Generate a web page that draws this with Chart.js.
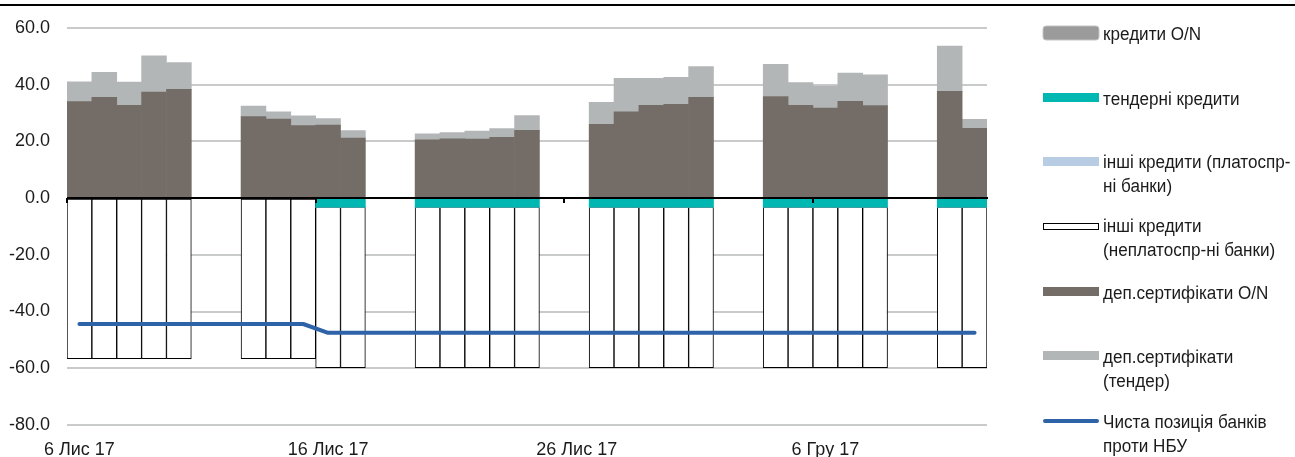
<!DOCTYPE html>
<html lang="uk">
<head>
<meta charset="utf-8">
<title>Ліквідність банків</title>
<script src="https://cdn.jsdelivr.net/npm/chart.js@4.4.1/dist/chart.umd.min.js"></script>
<style>
  html, body { margin: 0; padding: 0; background: #ffffff; }
  #wrap { position: relative; width: 1295px; height: 457px; }
  canvas { display: block; }
</style>
</head>
<body>
<div id="wrap"><canvas id="chart" width="1295" height="457"></canvas></div>
<script>
// Calendar days on the x axis (weekends carry no operations)
const days = [
  '6 Лис 17', '7 Лис 17', '8 Лис 17', '9 Лис 17', '10 Лис 17', '11 Лис 17', '12 Лис 17',
  '13 Лис 17', '14 Лис 17', '15 Лис 17', '16 Лис 17', '17 Лис 17', '18 Лис 17', '19 Лис 17',
  '20 Лис 17', '21 Лис 17', '22 Лис 17', '23 Лис 17', '24 Лис 17', '25 Лис 17', '26 Лис 17',
  '27 Лис 17', '28 Лис 17', '29 Лис 17', '30 Лис 17', '1 Гру 17', '2 Гру 17', '3 Гру 17',
  '4 Гру 17', '5 Гру 17', '6 Гру 17', '7 Гру 17', '8 Гру 17', '9 Гру 17', '10 Гру 17',
  '11 Гру 17', '12 Гру 17'
];

// Every tenth day gets a label
const labelStep = 10;

// Y axis range and step
const yTicks = { min: -80, max: 60, step: 20 };

// кредити O/N
const loansON = [
  0, 0, 0, 0, 0, null, null,
  0, 0, 0, 0, 0, null, null,
  0, 0, 0, 0, 0, null, null,
  0, 0, 0, 0, 0, null, null,
  0, 0, 0, 0, 0, null, null,
  0, 0
];

// тендерні кредити
const tenderLoans = [
  0, 0, 0, 0, 0, null, null,
  0, 0, 0, -3.2, -3.2, null, null,
  -3.2, -3.2, -3.2, -3.2, -3.2, null, null,
  -3.2, -3.2, -3.2, -3.2, -3.2, null, null,
  -3.2, -3.2, -3.2, -3.2, -3.2, null, null,
  -3.2, -3.2
];

// інші кредити (платоспроможні банки)
const otherLoansSolvent = [
  0, 0, 0, 0, 0, null, null,
  0, 0, 0, 0, 0, null, null,
  0, 0, 0, 0, 0, null, null,
  0, 0, 0, 0, 0, null, null,
  0, 0, 0, 0, 0, null, null,
  0, 0
];

// інші кредити (неплатоспроможні банки)
const otherLoansInsolvent = [
  -56.6, -56.6, -56.6, -56.6, -56.6, null, null,
  -56.6, -56.6, -56.6, -56.6, -56.6, null, null,
  -56.6, -56.6, -56.6, -56.6, -56.6, null, null,
  -56.6, -56.6, -56.6, -56.6, -56.6, null, null,
  -56.6, -56.6, -56.6, -56.6, -56.6, null, null,
  -56.6, -56.6
];

// депозитні сертифікати O/N
const depCertON = [
  34.0, 35.5, 32.7, 37.3, 38.3, null, null,
  28.7, 27.8, 25.5, 25.7, 21.1, null, null,
  20.5, 20.9, 20.8, 21.4, 23.9, null, null,
  26.0, 30.4, 32.7, 33.0, 35.5, null, null,
  35.8, 32.7, 31.7, 34.1, 32.6, null, null,
  37.6, 24.6
];

// депозитні сертифікати (тендер)
const depCertTender = [
  7.0, 8.8, 8.2, 12.8, 9.4, null, null,
  3.7, 2.6, 3.5, 2.3, 2.7, null, null,
  2.1, 2.2, 2.8, 3.1, 5.2, null, null,
  7.7, 11.8, 9.5, 9.5, 10.8, null, null,
  11.3, 8.0, 7.8, 9.9, 10.8, null, null,
  16.0, 3.1
];

// Чиста позиція банків проти НБУ
const netPosition = [
  -44.4, -44.4, -44.4, -44.4, -44.4, null, null,
  -44.4, -44.4, -44.4, -47.5, -47.5, null, null,
  -47.5, -47.5, -47.5, -47.5, -47.5, null, null,
  -47.5, -47.5, -47.5, -47.5, -47.5, null, null,
  -47.5, -47.5, -47.5, -47.5, -47.5, null, null,
  -47.5, -47.5
];

// Legend text, one entry per dataset, split into lines
const legendLines = [
  ['кредити O/N'],
  ['тендерні кредити'],
  ['інші кредити (платоспр-', 'ні банки)'],
  ['інші кредити', '(неплатоспр-ні банки)'],
  ['деп.сертифікати O/N'],
  ['деп.сертифікати', '(тендер)'],
  ['Чиста позиція банків', 'проти НБУ']
];

const FONT = "'Liberation Sans', Arial, sans-serif";
const TEXT = '#1b1b1b';

const C = {
  loansON: '#9b9b9b',
  tender: '#00b8b1',
  solvent: '#b8cce4',
  insolvent: '#ffffff',
  depON: '#746d67',
  depTender: '#b3b6b7',
  net: '#2e63a8',
  grid: '#c9cbcb'
};

const barBase = {
  type: 'bar',
  stack: 'ops',
  barPercentage: 1.0,
  categoryPercentage: 1.0,
  borderWidth: 0,
  order: 1
};

// Zero line, boundary ticks on it, rule across the top, and the side legend
const decorations = {
  id: 'decorations',
  afterDatasetsDraw(chart) {
    const { ctx, chartArea, scales } = chart;
    const y0 = Math.round(scales.y.getPixelForValue(0));
    ctx.save();
    ctx.fillStyle = '#000000';
    ctx.fillRect(chartArea.left, y0 - 1, chartArea.right - chartArea.left + 1, 2);
    const half = (scales.x.getPixelForValue(1) - scales.x.getPixelForValue(0)) / 2;
    for (let i = 0; i < days.length; i += labelStep) {
      const x = scales.x.getPixelForValue(i) - half;
      ctx.fillRect(Math.round(x) - 1, y0, 2, 5);
    }
    ctx.restore();
  },
  afterDraw(chart) {
    const { ctx } = chart;
    ctx.save();
    ctx.fillStyle = '#000000';
    ctx.fillRect(0, 4, chart.width, 2);

    const boxX = 1043, boxW = 56, textX = 1103, lineGap = 24.5, squeeze = 0.95;
    const rows = [
      { kind: 'round', top: 26, h: 14, text: 35 },
      { kind: 'fill', top: 93, h: 9, text: 100 },
      { kind: 'fill', top: 157, h: 9, text: 163 },
      { kind: 'outline', top: 223, h: 7, text: 227 },
      { kind: 'fill', top: 287, h: 9, text: 294 },
      { kind: 'fill', top: 351, h: 9, text: 358 },
      { kind: 'line', top: 419, h: 4, text: 423 }
    ];
    ctx.font = '18px ' + FONT;
    ctx.textBaseline = 'middle';
    ctx.textAlign = 'left';
    rows.forEach((r, i) => {
      const ds = chart.data.datasets[i];
      if (r.kind === 'round') {
        ctx.fillStyle = ds.backgroundColor;
        ctx.beginPath();
        ctx.roundRect(boxX, r.top, boxW, r.h, 3);
        ctx.fill();
        ctx.strokeStyle = '#c4c4c4';
        ctx.lineWidth = 1;
        ctx.stroke();
      } else if (r.kind === 'fill') {
        ctx.fillStyle = ds.backgroundColor;
        ctx.fillRect(boxX, r.top, boxW, r.h);
      } else if (r.kind === 'outline') {
        ctx.fillStyle = '#ffffff';
        ctx.fillRect(boxX, r.top, boxW, r.h);
        ctx.strokeStyle = '#000000';
        ctx.lineWidth = 1;
        ctx.strokeRect(boxX + 0.5, r.top + 0.5, boxW - 1, r.h - 1);
      } else {
        ctx.strokeStyle = ds.borderColor;
        ctx.lineWidth = 4;
        ctx.lineCap = 'round';
        ctx.beginPath();
        ctx.moveTo(boxX + 2, r.top + 2);
        ctx.lineTo(boxX + boxW - 2, r.top + 2);
        ctx.stroke();
      }
      ctx.fillStyle = TEXT;
      legendLines[i].forEach((t, k) => {
        ctx.save();
        ctx.translate(textX, r.text + k * lineGap);
        ctx.scale(squeeze, 1);
        ctx.fillText(t, 0, 0);
        ctx.restore();
      });
    });
    ctx.restore();
  }
};

new Chart(document.getElementById('chart'), {
  data: {
    labels: days,
    datasets: [
      { ...barBase, label: legendLines[0].join(' '), data: loansON, backgroundColor: C.loansON },
      { ...barBase, label: legendLines[1].join(' '), data: tenderLoans, backgroundColor: C.tender },
      { ...barBase, label: legendLines[2].join(' '), data: otherLoansSolvent, backgroundColor: C.solvent },
      { ...barBase, label: legendLines[3].join(' '), data: otherLoansInsolvent, backgroundColor: C.insolvent,
        borderColor: '#000000', borderWidth: 1, borderSkipped: false },
      { ...barBase, label: legendLines[4].join(' '), data: depCertON, backgroundColor: C.depON },
      { ...barBase, label: legendLines[5].join(' '), data: depCertTender, backgroundColor: C.depTender },
      {
        type: 'line',
        label: legendLines[6].join(' '),
        data: netPosition,
        borderColor: C.net,
        backgroundColor: C.net,
        borderWidth: 4,
        borderCapStyle: 'round',
        borderJoinStyle: 'round',
        pointRadius: 0,
        pointHoverRadius: 0,
        tension: 0,
        spanGaps: true,
        order: 0
      }
    ]
  },
  options: {
    responsive: false,
    animation: false,
    events: [],
    layout: { padding: { top: 26, right: 308, bottom: 0, left: 0 } },
    plugins: {
      legend: { display: false },
      tooltip: { enabled: false }
    },
    scales: {
      x: {
        stacked: true,
        offset: true,
        grid: { display: false, drawTicks: false },
        border: { display: false },
        ticks: {
          autoSkip: false,
          maxRotation: 0,
          padding: 14,
          color: TEXT,
          font: { family: FONT, size: 18 },
          callback: (v, i) => (i % labelStep === 0 ? days[i] : '')
        },
        afterFit: (s) => { s.height = 32; }
      },
      y: {
        stacked: true,
        min: yTicks.min,
        max: yTicks.max,
        ticks: {
          stepSize: yTicks.step,
          padding: 17,
          color: TEXT,
          font: { family: FONT, size: 18 },
          callback: (v) => Number(v).toFixed(1)
        },
        grid: {
          drawTicks: false,
          lineWidth: 2,
          color: (c) => (c.tick && c.tick.value === 0 ? 'rgba(0,0,0,0)' : C.grid)
        },
        border: { display: false },
        afterFit: (s) => { s.width = 67; }
      }
    }
  },
  plugins: [decorations]
});
</script>
</body>
</html>
